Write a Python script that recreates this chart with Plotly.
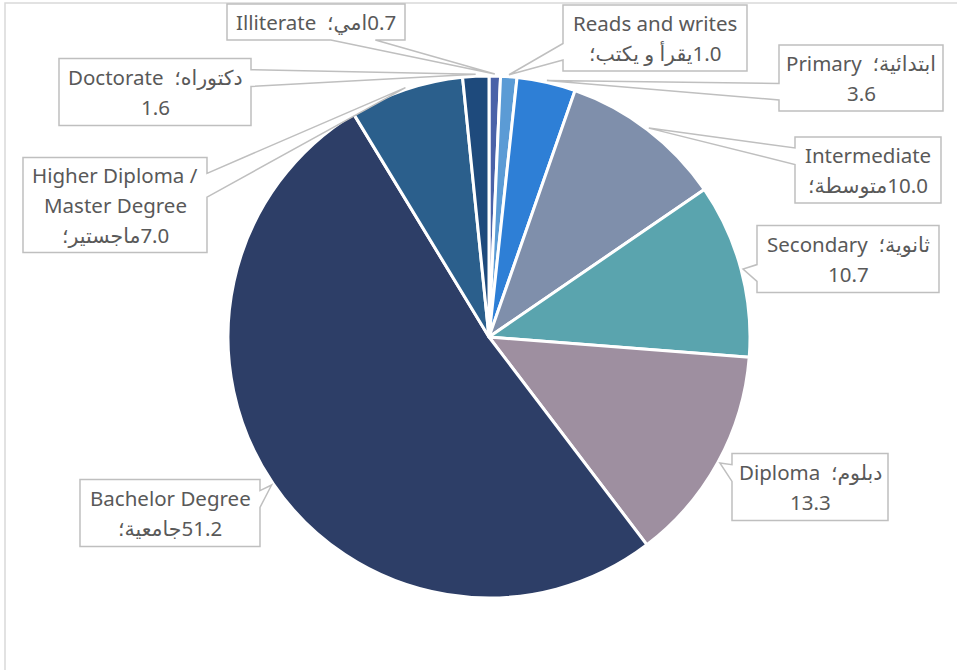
import math
import plotly.graph_objects as go

# data
labels = ["Illiterate", "Reads and writes", "Primary", "Intermediate", "Secondary",
          "Diploma", "Bachelor Degree", "Higher Diploma / Master Degree", "Doctorate"]
values = [0.7, 1.0, 3.6, 10.0, 10.7, 13.3, 51.2, 7.0, 1.6]
colors = ["#4a62a8", "#5b9bd5", "#2e7fd6", "#7f8fab", "#5aa4ae",
          "#9e8fa0", "#2d3e67", "#2b5f8c", "#1e4a7c"]

LRM = "\u200e"
SP = "\u00a0\u00a0"
label_lines = [
    ["Illiterate" + SP + "امي؛" + LRM + "0.7"],
    ["Reads and writes", "يقرأ و يكتب؛" + LRM + "1.0"],
    ["Primary" + SP + "ابتدائية؛", "3.6"],
    ["Intermediate", "متوسطة؛" + LRM + "10.0"],
    ["Secondary" + SP + "ثانوية؛", "10.7"],
    ["Diploma" + SP + "دبلوم؛", "13.3"],
    ["Bachelor Degree", "جامعية؛" + LRM + "51.2"],
    ["Higher Diploma /", "Master Degree", "ماجستير؛" + LRM + "7.0"],
    ["Doctorate" + SP + "دكتوراه؛", "1.6"],
]

# label box centre / size in pixels (x from left, y from top)
boxes = [
    (316, 22, 178, 36),
    (655, 38, 184, 66),
    (861, 78, 164, 66),
    (868, 170, 146, 66),
    (848, 259, 182, 67),
    (810, 487, 156, 67),
    (170, 513, 180, 67),
    (115, 205, 184, 95),
    (155, 92, 192, 67),
]

W, H = 957, 670
cx, cy, r = 489, 337, 261
LINE_H = 30


def to_paper(px, py):
    return px / W, 1 - py / H


def callout_path(bx, by, bw, bh, tx, ty):
    x0, x1 = bx - bw / 2, bx + bw / 2
    y0, y1 = by - bh / 2, by + bh / 2
    dx = (tx - bx) / bw
    dy = (ty - by) / bh
    lo, hi = (7 / 12, 10 / 12), (2 / 12, 5 / 12)
    top = [(x0, y0), (x1, y0)]
    right = [(x1, y1)]
    bottom = [(x0, y1)]
    if abs(dx) > abs(dy):
        f = lo if dy > 0 else hi
        b1, b2 = y0 + f[0] * bh, y0 + f[1] * bh
        if dx > 0:
            pts = top + [(x1, b1), (tx, ty), (x1, b2)] + right + bottom
        else:
            pts = top + right + bottom + [(x0, b2), (tx, ty), (x0, b1)]
    else:
        f = lo if dx > 0 else hi
        b1, b2 = x0 + f[0] * bw, x0 + f[1] * bw
        if dy < 0:
            pts = [(x0, y0), (b1, y0), (tx, ty), (b2, y0), (x1, y0)] + right + bottom
        else:
            pts = top + right + [(b2, y1), (tx, ty), (b1, y1)] + bottom
    segs = []
    for i, (px, py) in enumerate(pts):
        X, Y = to_paper(px, py)
        segs.append(("M" if i == 0 else "L") + f"{X:.5f},{Y:.5f}")
    return " ".join(segs) + " Z"


fig = go.Figure(go.Pie(
    labels=labels,
    values=values,
    sort=False,
    direction="clockwise",
    rotation=0,
    textinfo="none",
    marker=dict(colors=colors, line=dict(color="white", width=3)),
    domain=dict(x=[(cx - r) / W, (cx + r) / W], y=[1 - (cy + r) / H, 1 - (cy - r) / H]),
    showlegend=False,
))

shapes = [dict(type="rect", xref="paper", yref="paper",
               x0=5 / W, x1=1.02, y0=-0.02, y1=1 - 3 / H,
               line=dict(color="#d9d9d9", width=1.5), layer="below")]
annotations = []

total = sum(values)
acc = 0
for v, lines, (bx, by, bw, bh) in zip(values, label_lines, boxes):
    mid = (acc + v / 2) / total * 2 * math.pi
    acc += v
    tx = cx + (r + 2) * math.sin(mid)
    ty = cy - (r + 2) * math.cos(mid)
    shapes.append(dict(
        type="path", xref="paper", yref="paper",
        path=callout_path(bx, by, bw, bh, tx, ty),
        fillcolor="white", line=dict(color="#bfbfbf", width=1.5),
    ))
    n = len(lines)
    for i, line in enumerate(lines):
        ly = by + (i - (n - 1) / 2) * LINE_H
        X, Y = to_paper(bx, ly)
        annotations.append(dict(
            x=X, y=Y, xref="paper", yref="paper",
            xanchor="center", yanchor="middle",
            text=line, showarrow=False,
            font=dict(family="Noto Sans, DejaVu Sans", size=20.5, color="#595959"),
        ))

fig.update_layout(
    width=W,
    height=H,
    margin=dict(l=0, r=0, t=0, b=0),
    paper_bgcolor="white",
    plot_bgcolor="white",
    annotations=annotations,
    shapes=shapes,
)

fig.write_html("out.html", config={"displayModeBar": False},
               post_script="document.body.style.margin='0px';")
